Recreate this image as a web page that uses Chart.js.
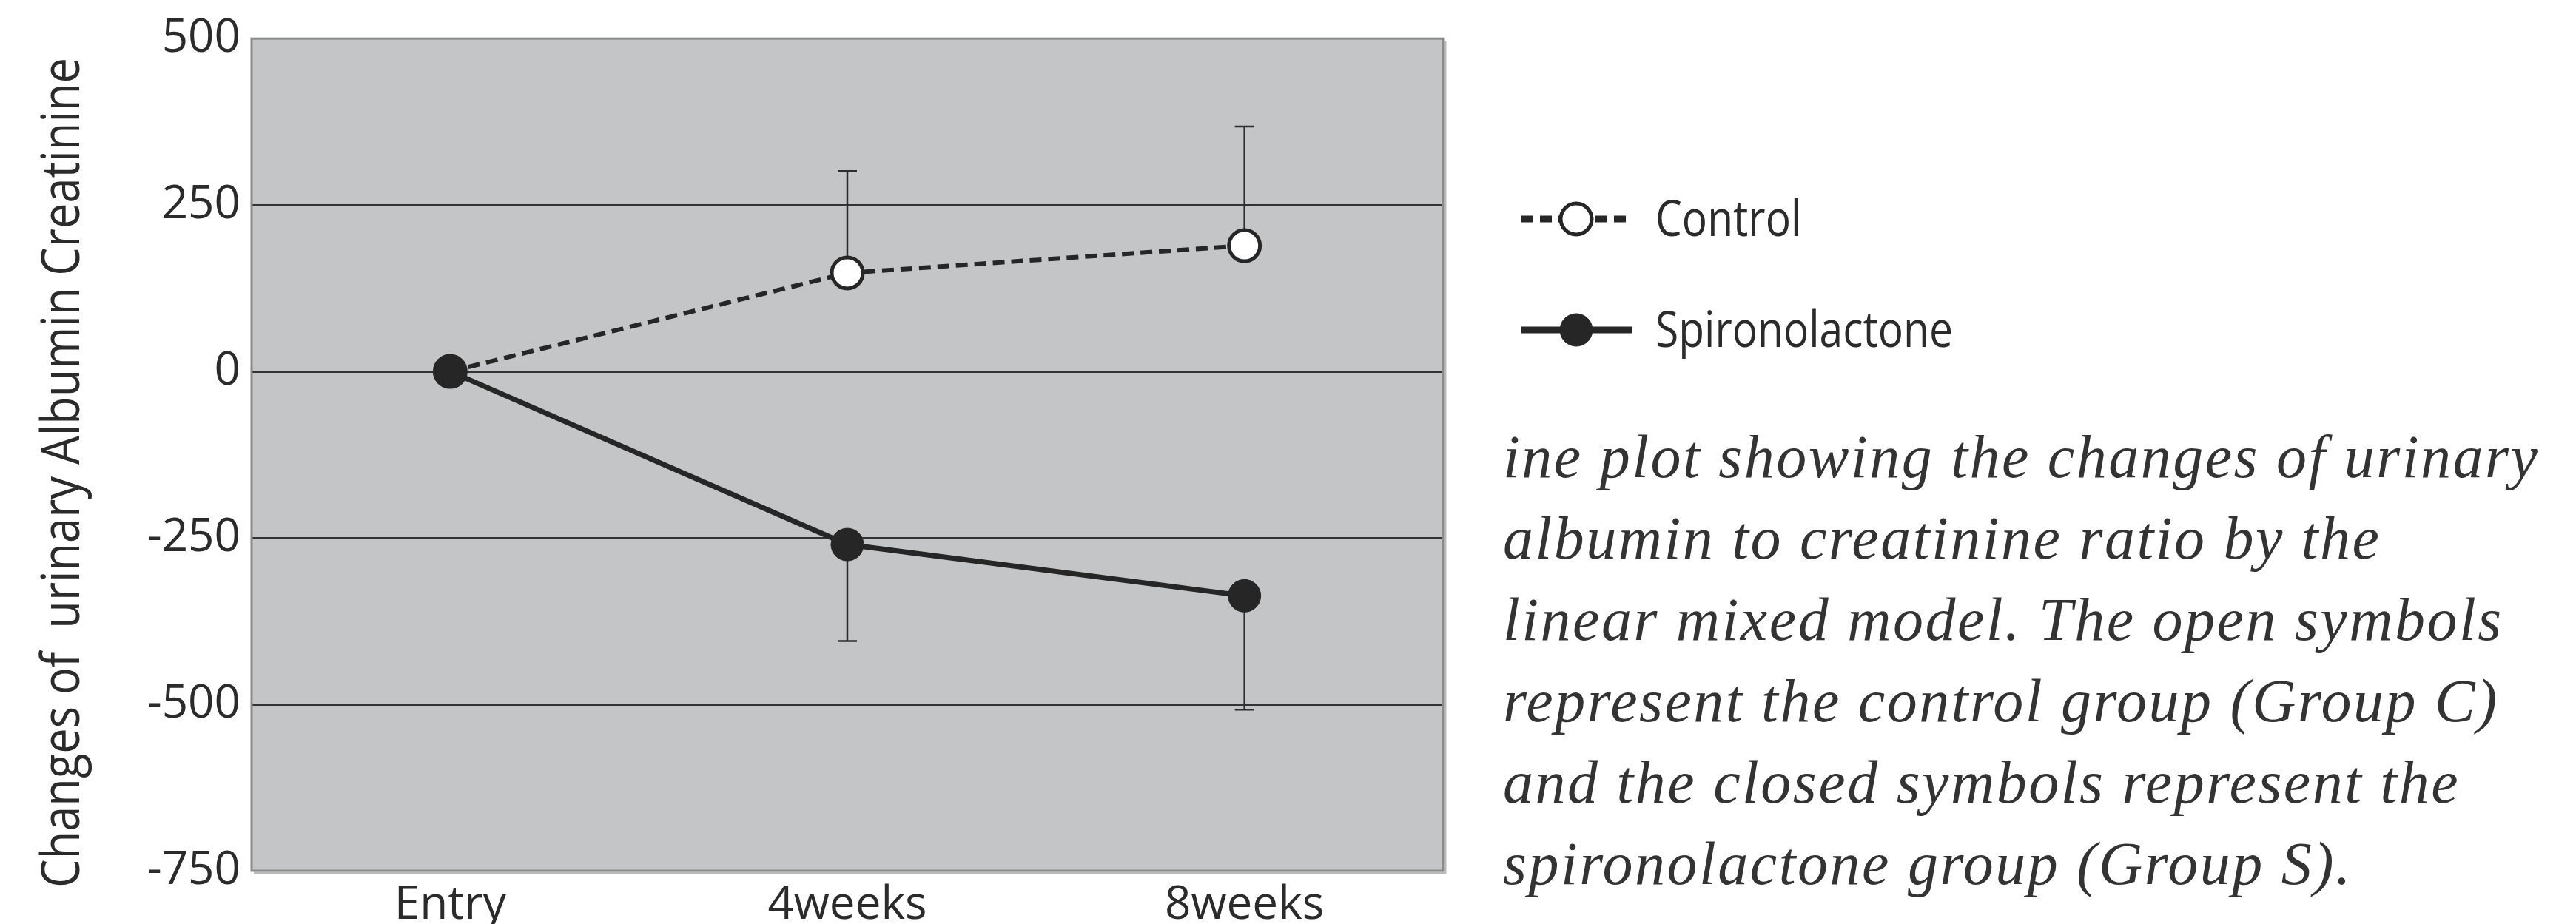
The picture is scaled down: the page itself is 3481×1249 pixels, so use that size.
<!DOCTYPE html>
<html>
<head>
<meta charset="utf-8">
<script src="https://cdn.jsdelivr.net/npm/chart.js@4.4.0/dist/chart.umd.min.js"></script>
<style>
  html, body { margin: 0; padding: 0; background: #fff; }
  #wrap { position: relative; width: 3481px; height: 1249px; overflow: hidden; }
  #grafico { position: absolute; left: 0; top: 0; }
  .legenda-figura {
    position: absolute; left: 2031px; top: 563px;
    font-family: "Liberation Serif", serif; font-style: italic;
    font-size: 82px; line-height: 110px; letter-spacing: 2.5px;
    color: #333; white-space: pre;
  }
</style>
</head>
<body>
<div id="wrap">
  <canvas id="grafico" width="3481" height="1249"></canvas>
  <div class="legenda-figura">ine plot showing the changes of urinary
albumin to creatinine ratio by the
linear mixed model. The open symbols
represent the control group (Group C)
and the closed symbols represent the
spironolactone group (Group S).</div>
</div>
<script>
// dados
const categorias = ['Entry', '4weeks', '8weeks'];
const controle = [0, 148, 189];
const controleErro = [0, 153, 179];      // desenhado para cima
const espiro = [0, -260, -337];
const espiroErro = [0, 145, 171];        // desenhado para baixo
const ticksY = [500, 250, 0, -250, -500, -750];
const tituloY = 'Changes of  urinary Albumin Creatinine';

const corTexto = '#2b2b2b';
const corLinha = '#262626';

// fundo cinza da área do gráfico
const fundoPlugin = {
    id: 'fundo',
    beforeDraw(chart) {
        const { ctx, chartArea: a } = chart;
        ctx.save();
        ctx.fillStyle = '#c4c5c7';
        ctx.fillRect(a.left, a.top, a.right - a.left, a.bottom - a.top);
        ctx.restore();
    }
};

// moldura + barras de erro (antes dos pontos, para ficarem por baixo)
const errosPlugin = {
    id: 'erros',
    beforeDatasetsDraw(chart) {
        const { ctx, chartArea: a, scales } = chart;
        ctx.save();
        ctx.strokeStyle = '#b9b9b9';
        ctx.lineWidth = 3;
        ctx.beginPath();
        ctx.moveTo(a.right + 3, a.top + 3);
        ctx.lineTo(a.right + 3, a.bottom + 3);
        ctx.lineTo(a.left + 3, a.bottom + 3);
        ctx.stroke();
        ctx.strokeStyle = '#8a8a8a';
        ctx.strokeRect(a.left, a.top, a.right - a.left, a.bottom - a.top);

        ctx.strokeStyle = '#2e2e2e';
        ctx.lineWidth = 2.5;
        chart.data.datasets.forEach((ds) => {
            if (!ds.erro) return;
            ds.data.forEach((v, i) => {
                const e = ds.erro[i];
                if (!e) return;
                const x = scales.x.getPixelForValue(i);
                const y0 = scales.y.getPixelForValue(v);
                const y1 = scales.y.getPixelForValue(v + ds.direcaoErro * e);
                ctx.beginPath();
                ctx.moveTo(x, y0);
                ctx.lineTo(x, y1);
                ctx.moveTo(x - 13, y1);
                ctx.lineTo(x + 13, y1);
                ctx.stroke();
            });
        });
        ctx.restore();
    }
};

function textoEstreito(ctx, texto, x, y, escala) {
    ctx.save();
    ctx.translate(x, y);
    ctx.scale(escala, 1);
    ctx.fillText(texto, 0, 0);
    ctx.restore();
}

// título do eixo Y e legenda desenhados à mão (fonte condensada)
const textosPlugin = {
    id: 'textos',
    afterDraw(chart) {
        const { ctx } = chart;
        ctx.save();
        ctx.fillStyle = corTexto;
        ctx.font = '72px "Open Sans"';
        const w = ctx.measureText(tituloY).width;
        const sx = Math.min(1, 1122 / w);
        ctx.translate(107, 639);
        ctx.rotate(-Math.PI / 2);
        ctx.scale(sx, 1);
        ctx.textAlign = 'center';
        ctx.textBaseline = 'alphabetic';
        ctx.fillText(tituloY, 0, 0);
        ctx.restore();

        // legenda
        const linhas = [296, 446];
        chart.data.datasets.forEach((ds, i) => {
            const y = linhas[i];
            ctx.save();
            ctx.strokeStyle = ds.borderColor;
            ctx.lineWidth = 9;
            ctx.setLineDash(ds.borderDash && ds.borderDash.length ? [16, 9] : []);
            ctx.beginPath();
            ctx.moveTo(2056, y);
            ctx.lineTo(2205, y);
            ctx.stroke();
            ctx.setLineDash([]);
            ctx.beginPath();
            ctx.arc(2130, y, ds.pointRadius, 0, Math.PI * 2);
            ctx.fillStyle = ds.pointBackgroundColor;
            ctx.fill();
            ctx.lineWidth = ds.pointBorderWidth;
            ctx.strokeStyle = ds.pointBorderColor;
            ctx.stroke();
            ctx.fillStyle = corTexto;
            ctx.font = '67px "Open Sans"';
            ctx.textBaseline = 'alphabetic';
            textoEstreito(ctx, ds.label, 2237, y + 23, 0.85);
            ctx.restore();
        });
    }
};

const ctxGrafico = document.getElementById('grafico');

new Chart(ctxGrafico, {
    type: 'line',
    data: {
        labels: categorias,
        datasets: [
            {
                label: 'Control',
                data: controle,
                erro: controleErro,
                direcaoErro: 1,
                borderColor: corLinha,
                borderWidth: 6,
                borderDash: [16, 9],
                pointRadius: 21,
                pointBackgroundColor: '#ffffff',
                pointBorderColor: corLinha,
                pointBorderWidth: 5,
                tension: 0,
                order: 1
            },
            {
                label: 'Spironolactone',
                data: espiro,
                erro: espiroErro,
                direcaoErro: -1,
                borderColor: corLinha,
                borderWidth: 7,
                pointRadius: 22,
                pointBackgroundColor: corLinha,
                pointBorderColor: corLinha,
                pointBorderWidth: 1,
                tension: 0,
                order: 0
            }
        ]
    },
    options: {
        responsive: false,
        devicePixelRatio: 1,
        animation: false,
        events: [],
        layout: { padding: { left: 0, right: 1531, top: 47, bottom: 0 } },
        plugins: {
            legend: { display: false },
            tooltip: { enabled: false }
        },
        scales: {
            x: {
                offset: true,
                grid: { display: false, drawTicks: false },
                border: { display: false },
                ticks: {
                    color: corTexto,
                    font: { family: 'Open Sans', size: 62 },
                    padding: 10,
                    maxRotation: 0
                },
                afterFit(axis) { axis.height = 72; }
            },
            y: {
                min: -750,
                max: 500,
                grid: {
                    drawTicks: false,
                    lineWidth: 3,
                    color: (c) => (c.tick && (c.tick.value === 500 || c.tick.value === -750)) ? 'rgba(0,0,0,0)' : '#333333'
                },
                border: { display: false },
                ticks: {
                    color: corTexto,
                    font: { family: 'Open Sans', size: 62 },
                    padding: 15
                },
                afterBuildTicks(axis) { axis.ticks = ticksY.map(v => ({ value: v })); },
                afterFit(axis) { axis.width = 340; }
            }
        }
    },
    plugins: [fundoPlugin, errosPlugin, textosPlugin]
});
</script>
</body>
</html>
